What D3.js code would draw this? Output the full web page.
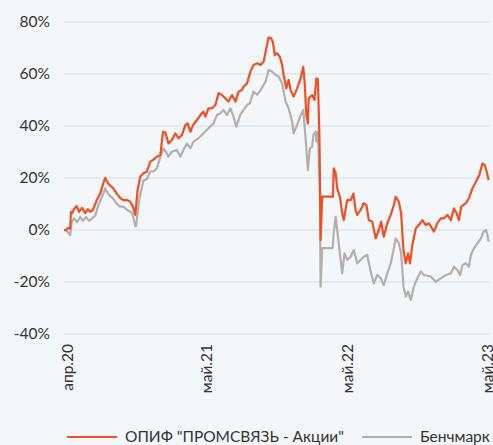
<!DOCTYPE html>
<html><head><meta charset="utf-8">
<script src="https://cdn.jsdelivr.net/npm/d3@7/dist/d3.min.js"></script>
<style>
html,body{margin:0;padding:0;background:#f4f7fa;}
svg{display:block;font-family:Lato, "Noto Sans", sans-serif;}
</style></head>
<body>
<svg id="chart" width="493" height="445"></svg>
<script>
// days since 2020-04-24
const startDate = new Date(2020, 3, 24);
const fundDays = [0,5,10,16,18,21,26,33,39,47,55,62,68,75,85,94,102,107,111,118,128,137,146,154,163,172,179,185,191,198,206,215,224,232,241,250,257,263,271,280,289,297,306,315,321,328,335,345,354,362,367,375,384,393,401,410,419,427,436,445,453,462,466,475,484,492,501,510,518,527,531,537,542,547,553,560,566,570,577,583,588,596,605,614,621,625,629,633,635,644,650,655,659,663,666,670,698,700,705,709,716,722,726,735,744,751,757,761,770,778,785,791,800,809,817,823,830,839,848,856,861,869,875,881,887,893,898,904,913,921,930,939,947,960,969,978,986,995,1004,1012,1019,1025,1031,1043,1051,1060,1069,1078,1086,1092,1097,1102];
const fundValues = [0,0,0.8,0.5,7,6.5,8,9.2,7,8.5,6.5,8,7,7.7,11.5,14,18,20,18.8,17.3,16,14,12.3,11.5,11.5,10.9,9,5.8,15.4,20.5,21.8,22.4,26.3,27,28.2,28.8,37.8,37.5,33.3,34.6,37.2,35.3,36.5,40.4,41,37.8,40.4,42.3,44.2,45.5,43.6,46.8,46.8,48.1,52.6,51.9,50.6,49.4,51.9,49.4,53.2,53.8,55.1,56.4,61,63.5,64.1,63.5,64.7,71.2,74,73.8,72.4,67.3,68,66.7,63.5,59.6,54.5,57.7,53.8,51.3,54.5,58.3,62.8,55.8,44.2,41,50.6,51.9,50,58.3,58,35,-3.8,12.8,12.8,23.7,22,16,12.8,6.4,3.8,11.5,11.5,14,7.5,5.8,7.7,10.3,9.6,3.8,3.2,-3.2,0,3.2,-2.6,2.6,5.8,9.6,12.8,10.9,6.4,-7.7,-12.8,-9,-12.8,-5.8,0.6,1.9,3.8,1.9,2.6,-0.6,2.6,4.5,4.5,5.8,3.8,8.3,6.4,3.8,9,10.3,12.2,16,18.6,21.2,25.6,25,22.4,19.2];
const benchDays = [0,8,16,20,26,34,42,49,57,65,73,81,88,96,102,107,112,120,128,137,146,154,164,172,177,185,187,195,206,215,224,232,241,250,258,265,271,280,293,302,310,319,328,336,349,362,375,388,397,406,414,423,432,440,447,458,466,475,482,492,501,510,523,531,540,549,557,566,575,583,592,596,605,614,621,627,633,638,644,647,653,655,659,661,664,666,670,697,700,705,709,716,722,728,735,744,752,761,770,778,787,796,804,813,822,830,839,848,856,861,869,875,881,887,893,900,908,917,926,934,952,965,978,991,1004,1012,1021,1028,1034,1043,1051,1056,1064,1073,1082,1089,1095,1099,1102];
const benchValues = [0,-0.5,-2,3,4.5,3,5,3.5,5,3.5,4.5,5.5,9,12,14,16,14.5,13,12,10,9,9,7.7,7,6.5,1.5,1.5,11.5,19,19.5,22.5,22.5,23.7,28.2,31.4,30,28.2,30.1,30.8,28.2,30.8,33.3,31.4,34,35.3,37.2,39.1,41,44.2,44.9,46.2,44.2,46.8,43.6,39.7,44.5,46.2,48,48.7,53.2,52,53.8,57,61.5,61,59.6,59,56.4,49.4,46.8,41.7,37.2,40.4,44,46.2,35.3,23,31.4,32,36.5,37.8,34,37.8,29.5,14,-21.8,-7,-7,-1.3,5.1,0,-9,-16.7,-9,-11.5,-10.3,-7.7,-12.8,-11.5,-10.3,-9.6,-16,-20.5,-17.3,-18.6,-21.2,-16.7,-12.8,-7,-3.2,-5.1,-9,-21.8,-25.6,-23.7,-26.9,-21.8,-18.6,-16,-17.3,-17.9,-19.9,-18.6,-17.3,-16.7,-14.1,-15.4,-17.3,-13.5,-12.8,-14.1,-9.6,-7,-5.1,-3.2,-0.6,0,-1.9,-4.5];
const xTickDays = [8, 370, 735, 1100];
const xTickLabels = ["апр.20", "май.21", "май.22", "май.23"];
const yTicks = [-40, -20, 0, 20, 40, 60, 80];
const seriesNames = ["ОПИФ \"ПРОМСВЯЗЬ - Акции\"", "Бенчмарк"];
const seriesColors = ["#f04e23", "#b3afae"];

const svg = d3.select("#chart");
const x = d3.scaleLinear().domain([0, 1103]).range([64, 489]);
const y = d3.scaleLinear().domain([-40, 80]).range([334, 22]);

// grid
svg.append("g").selectAll("line").data(yTicks).join("line")
  .attr("x1", 64).attr("x2", 490)
  .attr("y1", d => y(d)).attr("y2", d => y(d))
  .attr("stroke", "#cfe0ea").attr("stroke-width", 1.2);

// y labels
svg.append("g").selectAll("text").data(yTicks).join("text")
  .attr("x", 50).attr("y", d => y(d)).attr("dy", "0.35em")
  .attr("text-anchor", "end").attr("font-size", 15.5).attr("fill", "#333")
  .text(d => d + "%");

// x labels
svg.append("g").selectAll("text").data(xTickDays).join("text")
  .attr("transform", d => `translate(${x(d)},344) rotate(-90)`)
  .attr("dy", "0.35em").attr("text-anchor", "end")
  .attr("font-size", 15.5).attr("fill", "#333")
  .text((d, i) => xTickLabels[i]);

const line = d3.line().x(d => x(d[0])).y(d => y(d[1]));
const benchData = benchDays.map((d, i) => [d, benchValues[i]]);
const fundData = fundDays.map((d, i) => [d, fundValues[i]]);

svg.append("path").datum(benchData).attr("d", line)
  .attr("fill", "none").attr("stroke", seriesColors[1]).attr("stroke-width", 2.2).attr("stroke-linejoin", "round");
svg.append("path").datum(fundData).attr("d", line)
  .attr("fill", "none").attr("stroke", seriesColors[0]).attr("stroke-width", 2.2).attr("stroke-linejoin", "round");

// legend
const legendX = [67, 362];
const lg = svg.append("g");
seriesNames.forEach((name, i) => {
  lg.append("line").attr("x1", legendX[i]).attr("x2", legendX[i] + 50)
    .attr("y1", 437).attr("y2", 437).attr("stroke", seriesColors[i]).attr("stroke-width", 2);
  lg.append("text").attr("x", legendX[i] + 58).attr("y", 437).attr("dy", "0.35em")
    .attr("font-size", 15.5).attr("fill", "#333").text(name);
});
</script>
</body></html>
